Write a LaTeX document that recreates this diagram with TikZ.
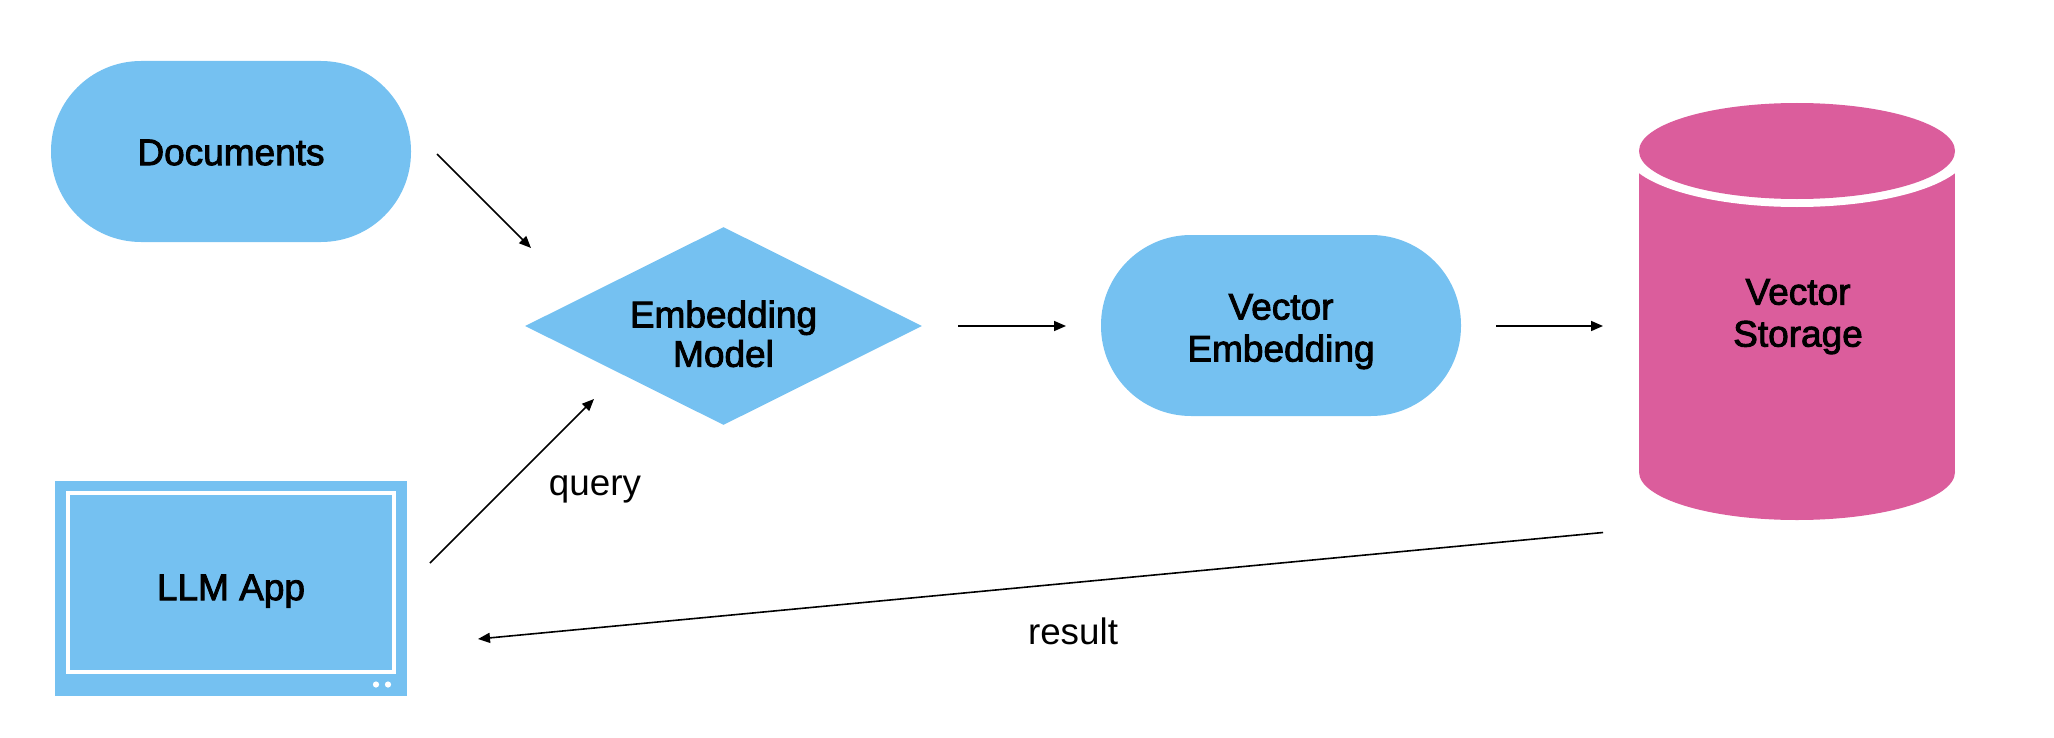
\documentclass[tikz,border=0pt]{standalone}
\usepackage{fontspec}
\setmainfont{Liberation Sans}
\newfontfamily\semib[FakeBold=2.4]{Liberation Sans}
\usetikzlibrary{arrows.meta,shapes.geometric}
\definecolor{skyb}{HTML}{75C1F1}
\definecolor{pinkb}{HTML}{DB5D9C}
\newcommand{\lines}[3]{\fontsize{18.5}{#2}\selectfont\raisebox{#1}[\height][\depth]{\begin{tabular}{@{}c@{}}#3\end{tabular}}}
\tikzset{
  x=0.5pt,y=-0.5pt,
  lbl/.style={font=\semib\fontsize{18.5}{21}\selectfont,text=black,inner sep=0pt},
  plain/.style={font=\fontsize{18.4}{21}\selectfont,text=black,inner sep=0pt,anchor=base},
  pill/.style={lbl,fill=skyb,rectangle,rounded corners=45pt,minimum width=180pt,minimum height=90.5pt},
  arrowline/.style={draw=black,line width=0.8pt,-{Triangle[length=6pt,width=5pt]}},
}
\begin{document}
\begin{tikzpicture}
\useasboundingbox (0,0) rectangle (2054,738);
% Documents
\node[pill] (docs) at (231,151.5) {\lines{-2.6pt}{21}{Documents}};
% Embedding model
\node[lbl,fill=skyb,diamond,aspect=2,minimum width=198.5pt,minimum height=99pt] (model) at (723.5,326) {\lines{-6.6pt}{19.7}{Embedding\\Model}};
% Vector embedding
\node[pill] (vec) at (1281,325.5) {\lines{-3.3pt}{21}{Vector\\Embedding}};
% LLM App
\node[fill=skyb,rectangle,inner sep=0pt,minimum width=176pt,minimum height=107.5pt] (appframe) at (231,588) {};
\node[lbl,fill=skyb,draw=white,line width=2.3pt,rectangle,minimum width=163pt,minimum height=89.5pt] (app) at (231,582.5) {\lines{-4.6pt}{21}{LLM App}};
\fill[white] (376,684.5) circle (3.1);
\fill[white] (388,684.5) circle (3.1);
% Cylinder
\fill[pinkb] (1639,165) rectangle (1955,472);
\fill[pinkb] (1797,472) ellipse [x radius=158,y radius=48];
\fill[white] (1797,151) ellipse [x radius=172,y radius=56];
\fill[white] (1620,100) rectangle (1639,180);
\fill[white] (1955,100) rectangle (1975,180);
\fill[pinkb] (1797,151) ellipse [x radius=158,y radius=48];
\node[lbl] (store) at (1798,325) {\lines{3.9pt}{21}{Vector\\Storage}};
% free ends
\coordinate (a1) at (437,154);
\coordinate (a2) at (531,248);
\coordinate (b1) at (430,563);
\coordinate (b2) at (594,399);
\coordinate (c1) at (958,326);
\coordinate (c2) at (1066,326);
\coordinate (d1) at (1496,326);
\coordinate (d2) at (1603,326);
\coordinate (e1) at (1603,532.5);
\coordinate (e2) at (478,639);
\draw[arrowline] (a1) -- (a2);
\draw[arrowline] (b1) -- (b2);
\draw[arrowline] (c1) -- (c2);
\draw[arrowline] (d1) -- (d2);
\draw[arrowline] (e1) -- (e2);
\node[plain] (q) at (595,495) {query};
\node[plain] (r) at (1073,644) {result};
\end{tikzpicture}
\end{document}
